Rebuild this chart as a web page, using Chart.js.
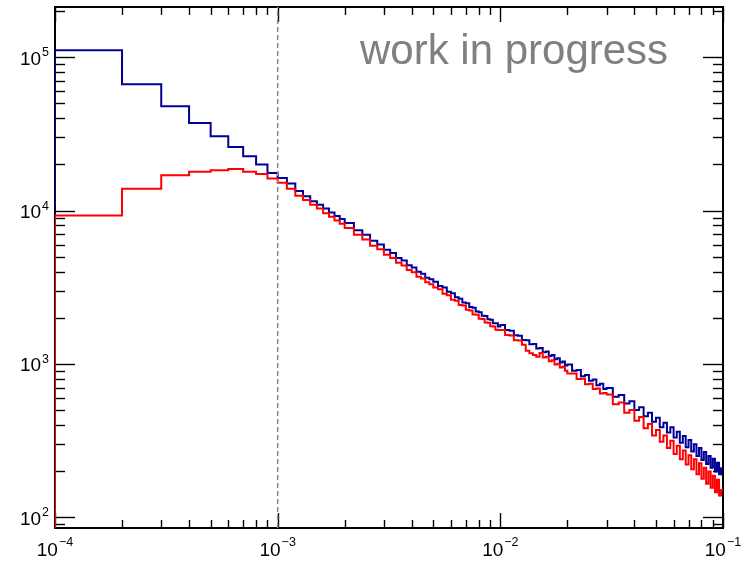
<!DOCTYPE html>
<html>
<head>
<meta charset="utf-8">
<script src="https://cdn.jsdelivr.net/npm/chart.js@4.4.1/dist/chart.umd.min.js"></script>
<style>
  body { margin: 0; background: #fff; }
  #wrap { width: 745px; height: 562px; }
</style>
</head>
<body>
<div id="wrap"><canvas id="histo" width="745" height="562"></canvas></div>
<script>
// binning of the histogram: [first edge, bin width, number of bins]
const binGroups = [
  [1e-4, 1e-4, 19],
  [2e-3, 2e-4, 15],
  [5e-3, 2.5e-4, 20],
  [1e-2, 5e-4, 20],
  [2e-2, 1e-3, 10],
  [3e-2, 2e-3, 35],
];

const blueCounts = [
  111000, 66700, 47900, 37300, 30500, 26000, 22600, 20000, 17600, 16300,
  15000, 13400, 12400, 11500, 10900, 10300, 9700, 9200, 8800,
  8300, 7450, 6950, 6350, 6000, 5550, 5280, 4900, 4720, 4400, 4250, 3990, 3870, 3650, 3560,
  3430, 3220, 3150, 2950, 2890, 2720, 2660, 2510, 2480, 2350,
  2320, 2190, 2170, 2060, 2050, 1950, 1940, 1840, 1840, 1750,
  1790, 1660, 1640, 1535, 1525, 1430, 1425, 1340, 1345, 1260,
  1270, 1190, 1205, 1125, 1140, 1070, 1085, 1020, 1035, 975,
  990, 900, 910, 830, 845, 775, 790, 725, 740, 685,
  695, 610, 625, 550, 570, 500, 520, 455, 480, 418,
  445, 385, 412, 356, 385, 330, 360, 305, 338, 285,
  318, 268, 298, 250, 282, 236, 266, 222, 250, 210,
  240, 198, 226, 190, 208,
];

const redCounts = [
  9300, 13900, 17000, 17900, 18300, 18700, 17900, 17300, 16200, 15200,
  13900, 12500, 11700, 10900, 10300, 9600, 9100, 8600, 8200,
  7700, 6950, 6480, 5900, 5600, 5150, 4900, 4560, 4380, 4100, 3950, 3700, 3600, 3400, 3310,
  3150, 3060, 2860, 2800, 2620, 2580, 2420, 2400, 2250, 2230,
  2100, 2090, 1970, 1960, 1860, 1850, 1760, 1750, 1670, 1660,
  1660, 1540, 1530, 1425, 1420, 1330, 1215, 1170, 1140, 1110,
  1175, 1100, 1110, 1040, 1055, 990, 1000, 945, 955, 900,
  865, 865, 795, 800, 735, 740, 685, 690, 640, 645,
  630, 545, 560, 480, 500, 425, 450, 380, 405, 340,
  370, 310, 340, 282, 315, 258, 292, 238, 272, 220,
  253, 205, 238, 190, 224, 178, 210, 165, 198, 155,
  186, 145, 175, 138, 150,
];

const cutX = 1e-3;
const xRange = [1e-4, 1e-1];
const yRange = [84.8, 2.13e5];
const xDecades = [-4, -3, -2, -1];
const yDecades = [2, 3, 4, 5];
const watermark = "work in progress";

const FONT = '"Liberation Sans", Arial, Helvetica, sans-serif';

function binEdges() {
  let edges = [];
  binGroups.forEach(g => {
    for (let i = 0; i < g[2]; i++) edges.push(g[0] + i * g[1]);
  });
  edges.push(xRange[1]);
  return edges;
}

// step histogram points, starting from the bottom of the frame
function toSteps(counts) {
  let edges = binEdges();
  let pts = [{ x: edges[0], y: yRange[0] }];
  counts.forEach((c, i) => pts.push({ x: edges[i], y: c }));
  pts.push({ x: edges[edges.length - 1], y: counts[counts.length - 1] });
  return pts;
}

function drawText(ctx, txt, x, y, size, color) {
  ctx.save();
  ctx.font = size + 'px ' + FONT;
  ctx.fillStyle = color || '#000';
  ctx.textBaseline = 'alphabetic';
  ctx.fillText(txt, x, y);
  ctx.restore();
}

function textWidth(ctx, txt, size) {
  ctx.font = size + 'px ' + FONT;
  return ctx.measureText(txt).width;
}

// ROOT-like frame with inward ticks on all four sides
const frame = {
  id: 'frame',
  beforeDatasetsDraw(chart) {
    const { ctx, chartArea: a, scales: { x, y } } = chart;
    ctx.save();
    ctx.strokeStyle = '#000';
    ctx.lineWidth = 1.4;
    const seg = (x1, y1, x2, y2) => {
      ctx.beginPath(); ctx.moveTo(x1, y1); ctx.lineTo(x2, y2); ctx.stroke();
    };
    for (let e = -4; e <= -1; e++) {
      for (let m = 1; m <= 9; m++) {
        let v = m * Math.pow(10, e);
        if (v > xRange[1] * 1.001) break;
        let px = Math.round(x.getPixelForValue(v)) + 0.5;
        let len = m === 1 ? 15 : 8;
        seg(px, a.bottom, px, a.bottom - len);
        seg(px, a.top, px, a.top + len);
      }
    }
    for (let e = 1; e <= 5; e++) {
      for (let m = 1; m <= 9; m++) {
        let v = m * Math.pow(10, e);
        if (v < yRange[0] || v > yRange[1]) continue;
        let py = Math.round(y.getPixelForValue(v)) + 0.5;
        let len = m === 1 ? 20 : 10;
        seg(a.left, py, a.left + len, py);
        seg(a.right, py, a.right - len, py);
      }
    }
    ctx.lineWidth = 2;
    ctx.strokeRect(a.left, a.top, a.right - a.left, a.bottom - a.top);
    ctx.restore();
  },
  afterDraw(chart) {
    const { ctx, scales: { x, y } } = chart;
    const big = 19, small = 12.5;
    xDecades.forEach(e => {
      let px = x.getPixelForValue(Math.pow(10, e));
      let ex = '\u2212' + Math.abs(e);
      let w1 = textWidth(ctx, '10', big), w2 = textWidth(ctx, ex, small);
      let x0 = px - (w1 + w2 + 1) / 2;
      drawText(ctx, '10', x0, 556, big);
      drawText(ctx, ex, x0 + w1 + 1, 546, small);
    });
    yDecades.forEach(e => {
      let py = y.getPixelForValue(Math.pow(10, e));
      drawText(ctx, '10', 20, py + 7.7, big);
      drawText(ctx, String(e), 42, py - 1, small);
    });
    drawText(ctx, watermark, 360, 64, 42, '#808080');
  }
};

let ctx = document.getElementById('histo').getContext('2d');

let histo = new Chart(ctx, {
  type: 'line',
  data: {
    datasets: [{
      data: [{ x: cutX, y: yRange[0] }, { x: cutX, y: yRange[1] }],
      borderColor: '#8a8a8a',
      borderWidth: 1.5,
      borderDash: [5, 3],
      order: 0,
    }, {
      data: toSteps(redCounts),
      borderColor: '#ff0000',
      borderWidth: 2,
      stepped: 'before',
      order: 1,
    }, {
      data: toSteps(blueCounts),
      borderColor: '#000099',
      borderWidth: 2,
      stepped: 'before',
      order: 2,
    }]
  },
  options: {
    responsive: false,
    animation: false,
    parsing: false,
    normalized: true,
    layout: {
      padding: { left: 55, right: 22, top: 7, bottom: 34 },
    },
    elements: {
      point: { radius: 0, hoverRadius: 0 },
      line: { tension: 0, fill: false },
    },
    plugins: {
      legend: { display: false },
      tooltip: { enabled: false },
    },
    scales: {
      x: {
        type: 'logarithmic',
        min: xRange[0],
        max: xRange[1],
        display: false,
      },
      y: {
        type: 'logarithmic',
        min: yRange[0],
        max: yRange[1],
        display: false,
      }
    }
  },
  plugins: [frame],
});
</script>
</body>
</html>
